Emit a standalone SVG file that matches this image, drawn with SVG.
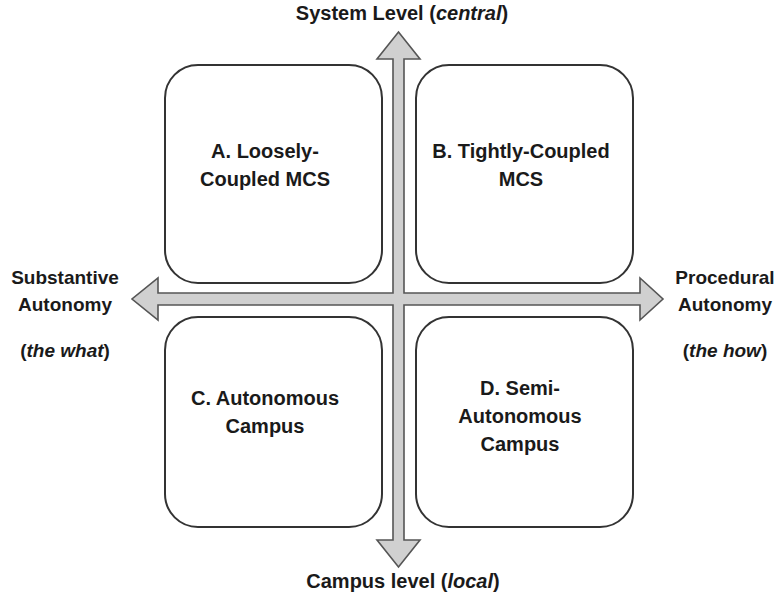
<svg xmlns="http://www.w3.org/2000/svg" width="783" height="596" viewBox="0 0 783 596">
<style>
.box{fill:#fff;stroke:#333;stroke-width:2}
.arr{fill:#d0d0d0;stroke:#555;stroke-width:1.6;stroke-linejoin:miter}
text{font-family:"Liberation Sans",Arial,sans-serif;font-weight:bold;font-size:20px;fill:#1a1a1a;text-anchor:middle}
.side{font-size:19px}
</style>
<rect width="783" height="596" fill="#fff"/>
<g id="boxA"><rect class="box" x="165" y="65" width="217" height="218" rx="33"/>
<text x="265" y="158">A. Loosely-</text><text x="265" y="186">Coupled MCS</text></g>
<g id="boxB"><rect class="box" x="416" y="65" width="217" height="218" rx="33"/>
<text x="521" y="158">B. Tightly-Coupled</text><text x="521" y="186">MCS</text></g>
<g id="boxC"><rect class="box" x="165" y="317" width="217" height="210" rx="33"/>
<text x="265" y="405">C. Autonomous</text><text x="265" y="433">Campus</text></g>
<g id="boxD"><rect class="box" x="416" y="317" width="217" height="210" rx="33"/>
<text x="520" y="395">D. Semi-</text><text x="520" y="423">Autonomous</text><text x="520" y="451">Campus</text></g>
<g id="connectors">
<path class="arr" d="M398.5,32 L420,59 L404,59 L404,293 L640,293 L640,278 L663,299 L640,320 L640,305 L404,305 L404,540 L420,540 L398.5,567 L377,540 L393,540 L393,305 L158,305 L158,320 L132,299 L158,278 L158,293 L393,293 L393,59 L377,59 Z"/>
</g>
<g id="labels">
<text x="402" y="20">System Level (<tspan font-style="italic">central</tspan>)</text>
<text x="403" y="588">Campus level (<tspan font-style="italic">local</tspan>)</text>
<text class="side" x="65" y="284">Substantive</text><text class="side" x="65" y="311">Autonomy</text>
<text class="side" x="65" y="357">(<tspan font-style="italic">the what</tspan>)</text>
<text class="side" x="725" y="284">Procedural</text><text class="side" x="725" y="311">Autonomy</text>
<text class="side" x="725" y="357">(<tspan font-style="italic">the how</tspan>)</text>
</g>
</svg>
